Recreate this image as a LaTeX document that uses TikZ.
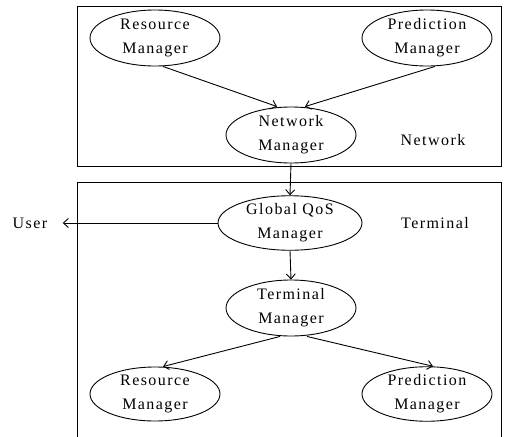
\documentclass[tikz,border=0pt]{standalone}
\usepackage{fontspec}
\setmainfont{Liberation Serif}[LetterSpace=9]
\usepackage{tikz}
\usetikzlibrary{shapes,arrows.meta}
\tikzstyle{manager} = [ellipse, draw, text centered, align=center, inner sep=0pt, minimum
width=130pt, minimum height=56pt]
\tikzstyle{zonelabel} = [inner sep=0pt, text centered]
\tikzstyle{line} = [draw, -{Straight Barb[length=5pt,width=9pt]}]
\tikzstyle{zonebox} = [draw]

\begin{document}
\begin{tikzpicture}[x=1pt, y=-1pt, line width=0.9pt, font=\fontsize{16}{24}\selectfont]
			\useasboundingbox (0,0) rectangle (507,437);
			% network side
			\draw [zonebox] (77,6) rectangle (501,166);
			\node [manager] (resnet) at (155,38) {Resource\\Manager};
			\node [manager] (prednet) at (427,38) {Prediction\\Manager};
			\node [manager] (netmgr) at (291,135) {Network\\Manager};
			\node [zonelabel] (netlabel) at (433,140) {Network};
			% terminal side
			\draw [zonebox] (77,437) -- (77,182) -- (501,182) -- (501,437);
			\node [manager, minimum width=144pt, minimum height=50pt] (qosmgr) at (290,223) {Global QoS\\Manager};
			\node [zonelabel] (termlabel) at (435,223) {Terminal};
			\node [inner ysep=0pt, inner xsep=15pt] (user) at (30,223) {User};
			\node [manager] (termmgr) at (291,308) {Terminal\\Manager};
			\node [manager, minimum height=54pt] (resterm) at (155,394) {Resource\\Manager};
			\node [manager, minimum height=54pt] (predterm) at (427,394) {Prediction\\Manager};
			\path [line] ([xshift=8pt]resnet.south) -- ([xshift=-14pt]netmgr.north);
			\path [line] ([xshift=8pt]prednet.south) -- ([xshift=14pt]netmgr.north);
			\path [line] (netmgr.south) -- (qosmgr.north);
			\path [line] (qosmgr.west) -- (user.east);
			\path [line] (qosmgr.south) -- (termmgr.north);
			\path [line] ([xshift=-11pt]termmgr.south) -- ([xshift=8pt]resterm.north);
			\path [line] ([xshift=16pt]termmgr.south) -- ([xshift=6pt]predterm.north);
		\end{tikzpicture}
\end{document}
